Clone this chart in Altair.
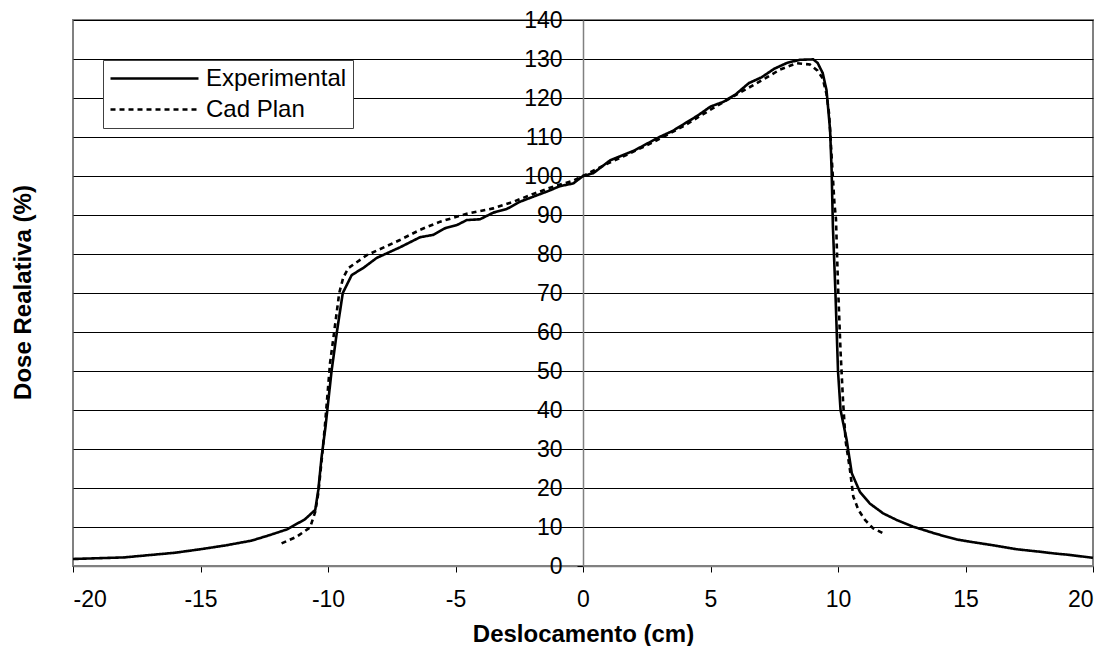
import altair as alt
import pandas as pd

# Experimental profile
x_exp = [-20, -19, -18, -17, -16, -15, -14, -13, -12.3, -11.6, -10.9, -10.5, -10.38, -10.25,
         -10.1, -9.86, -9.64, -9.42, -9.07, -8.6, -8.09, -7.18, -6.39, -5.88, -5.41, -4.95,
         -4.56, -4.04, -3.52, -3.0, -2.47, -1.95, -1.42, -0.9, -0.38, 0, 0.4, 1.06, 2, 3, 3.5,
         4, 4.5, 5, 5.5, 6, 6.5, 7, 7.5, 8, 8.5, 9.03, 9.2, 9.4, 9.55, 9.69, 9.75, 9.8, 9.9,
         10.0, 10.1, 10.34, 10.54, 10.86, 11.25, 11.77, 12.3, 12.94, 13.87, 14.65, 15.2, 16,
         17, 18, 18.5, 19, 20]
y_exp = [1.8, 2.0, 2.2, 2.8, 3.4, 4.3, 5.3, 6.5, 7.9, 9.4, 12.0, 14.4, 19.5, 28,
         35.6, 50, 60.5, 70, 74.6, 76.5, 79, 81.7, 84.3, 84.9, 86.6, 87.4,
         88.7, 88.9, 90.6, 91.5, 93.4, 94.7, 96, 97.4, 98.1, 100, 100.7, 104, 106.5, 110, 111.5,
         113.5, 115.5, 117.8, 119, 121, 123.8, 125.3, 127.5, 129, 129.8, 129.9, 129, 126.4, 122,
         111.8, 101.5, 87, 70,
         50, 40, 32.3, 23.8, 19, 16, 13.5, 11.8, 10.1, 8.2, 6.8, 6.2, 5.4,
         4.3, 3.6, 3.2, 2.9, 2.1]

# Cad Plan profile
x_cad = [-11.82, -11.23, -10.7, -10.5, -10.38, -10.25, -10.12, -9.92, -9.73, -9.56, -9.4, -9.2,
         -8.48, -7.44, -7.18, -6.39, -5.6, -4.56, -3.52, -2.73, -1.95, -1.16, -0.38, 0, 1, 2, 3,
         4, 5, 6, 7, 7.73, 8.38, 8.9, 9.2, 9.4, 9.55, 9.65, 9.75, 9.86, 9.92, 10.0, 10.1, 10.2,
         10.3, 10.47, 10.6, 10.8, 11.06, 11.37, 11.77]
y_cad = [5.8, 7.5, 9.9, 13.9, 18.7, 27, 36, 52, 61.4, 70, 74, 76.4,
         79.7, 82.8, 83.6, 86.2, 88.3, 90.3, 91.7, 93.4, 95.4, 97.3, 98.8, 100, 103.3, 106.3, 109.5,
         113, 117, 120.8, 124.5, 127.3, 128.9, 128.6, 127, 125, 121, 116, 105, 93, 89, 72, 55, 42,
         32, 24.6, 17.8, 14.4, 11.8, 9.7, 8.4]

series = ["Experimental", "Cad Plan"]
x_ticks = [-20, -15, -10, -5, 0, 5, 10, 15, 20]
y_ticks = list(range(0, 141, 10))

df = pd.concat([
    pd.DataFrame({"x": x_exp, "y": y_exp, "serie": series[0], "o": range(len(x_exp))}),
    pd.DataFrame({"x": x_cad, "y": y_cad, "serie": series[1], "o": range(len(x_cad))}),
])

FONT = "Liberation Sans"

chart = alt.Chart(df).mark_line(strokeWidth=2.6, color="black").encode(
    x=alt.X("x:Q", scale=alt.Scale(domain=[-20, 20], nice=False),
            axis=alt.Axis(values=x_ticks, title="Deslocamento (cm)", grid=False,
                          labelExpr="'' + datum.value",
                          labelFontSize=23, labelFont=FONT, labelColor="black",
                          labelPadding=16, tickSize=6, tickColor="#000",
                          domainColor="#808080", domainWidth=1.5,
                          titleFont=FONT, titleFontSize=24, titleFontWeight="bold",
                          titleColor="black", titlePadding=11)),
    y=alt.Y("y:Q", scale=alt.Scale(domain=[0, 140], nice=False),
            axis=alt.Axis(values=y_ticks, title="Dose Realativa (%)", offset=-510,
                          grid=True, gridColor="#000", gridWidth=1,
                          labelFontSize=23, labelFont=FONT, labelColor="black",
                          labelPadding=15, tickSize=6, tickColor="#000",
                          domainColor="#808080", domainWidth=1.5,
                          titleFont=FONT, titleFontSize=24, titleFontWeight="bold",
                          titleColor="black", titleX=-560, titleY=272,
                          titleAlign="center", titleBaseline="middle", titleAngle=270)),
    strokeDash=alt.StrokeDash("serie:N",
                              scale=alt.Scale(domain=series, range=[[1, 0], [5, 4]]),
                              legend=alt.Legend(title=None, orient="none", legendX=30, legendY=40,
                                                labelFont=FONT, labelFontSize=24,
                                                labelColor="black", labelOffset=72,
                                                symbolType="M-1,0H7", symbolSize=484,
                                                symbolStrokeWidth=2.6, symbolStrokeColor="black",
                                                symbolFillColor="transparent",
                                                strokeColor="#404040", fillColor="white",
                                                padding=6, rowPadding=6)),
    order="o:Q",
).properties(
    width=1020, height=546,
    autosize=alt.AutoSizeParams(type="none"),
    padding={"left": 65, "top": 12, "right": 9, "bottom": 80},
).configure_view(stroke="#808080", strokeWidth=2)

chart.save("out.html", embed_options={"renderer": "svg", "actions": False})
